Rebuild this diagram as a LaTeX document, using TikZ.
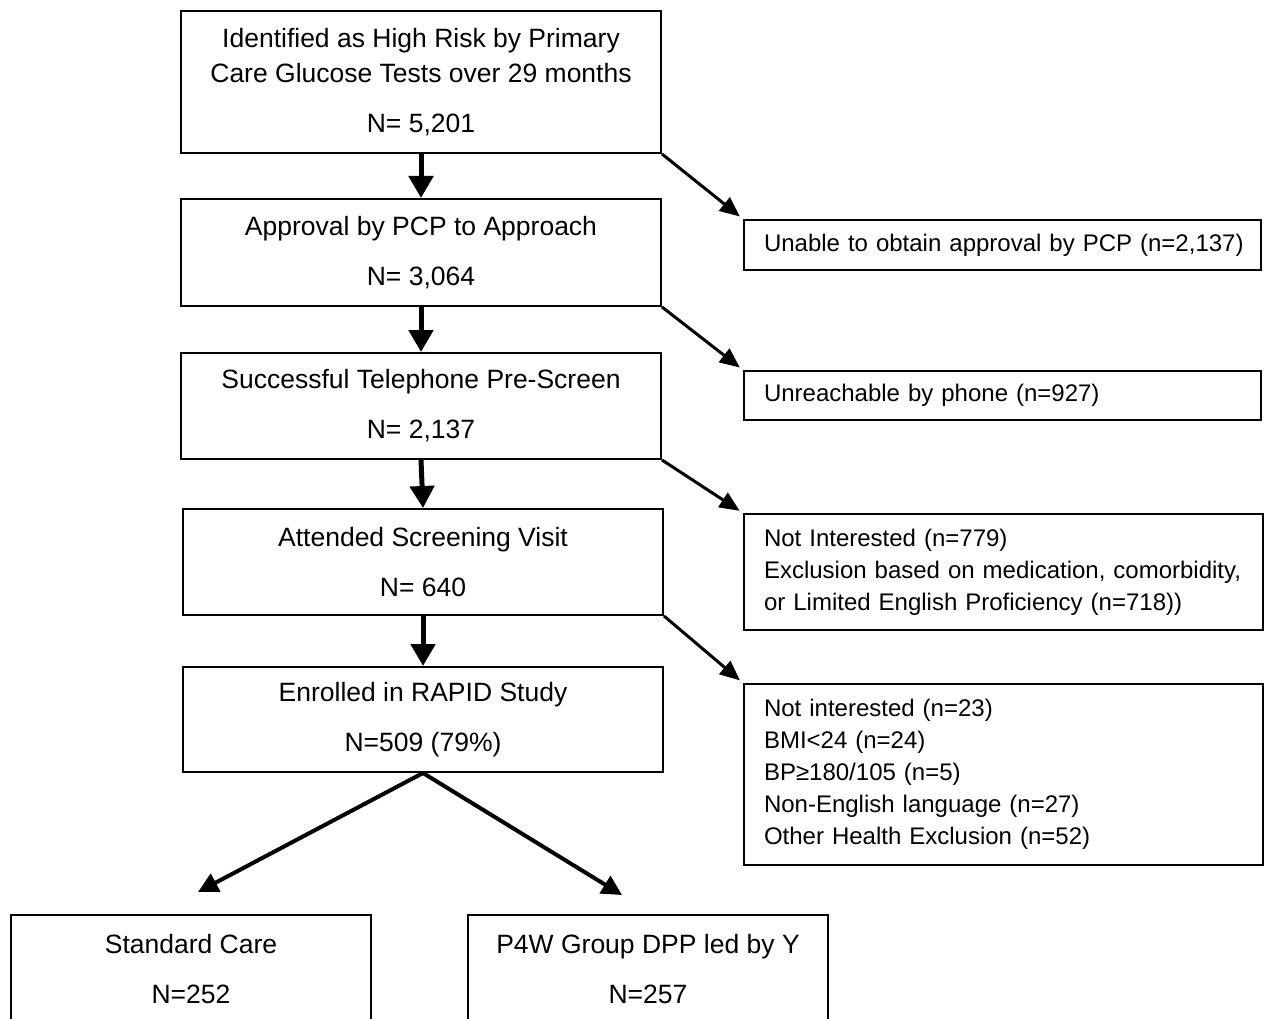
\documentclass[tikz,border=0pt]{standalone}
\usepackage{fontspec}
\setmainfont{Liberation Sans}
\usetikzlibrary{arrows.meta}
\begin{document}
\begin{tikzpicture}[x=1pt,y=-1pt,
 mainbox/.style={draw, line width=2pt, inner sep=0pt, anchor=north west, align=center, font=\fontsize{26.5}{35}\selectfont},
 sidebox/.style={draw, line width=2pt, inner xsep=20pt, inner ysep=0pt, anchor=north west, align=left, font=\fontsize{24}{32}\selectfont},
 varrow/.style={line width=5pt, -{Triangle[length=22pt,width=24pt]}},
 darrow/.style={line width=3pt, -{Triangle[length=20pt,width=17pt]}, shorten >=4pt},
 barrow/.style={line width=4pt, -{Triangle[length=20pt,width=20pt]}}]
\useasboundingbox (0,0) rectangle (1268,1019);
\node[mainbox, minimum width=480pt, minimum height=142pt] (b1) at (180,10)
  {Identified as High Risk by Primary\\Care Glucose Tests over 29 months\\[15pt]N= 5,201};
\node[mainbox, minimum width=480pt, minimum height=107pt] (b2) at (180,198)
  {Approval by PCP to Approach\\[15pt]N= 3,064};
\node[mainbox, minimum width=480pt, minimum height=106pt] (b3) at (180,352)
  {Successful Telephone Pre-Screen\\[15pt]N= 2,137};
\node[mainbox, minimum width=480pt, minimum height=106pt] (b4) at (182,508)
  {Attended Screening Visit\\[15pt]N= 640};
\node[mainbox, minimum width=480pt, minimum height=105pt] (b5) at (182,666)
  {Enrolled in RAPID Study\\[15pt]N=509 (79\%)};
\node[sidebox, text width=477pt, minimum height=50pt] (r1) at (743,219)
  {\mbox{Unable to obtain approval by PCP (n=2,137)}};
\node[sidebox, text width=477pt, minimum height=49pt] (r2) at (743,370)
  {\mbox{Unreachable by phone (n=927)}};
\node[sidebox, text width=479pt, minimum height=116pt] (r3) at (743,513)
  {Not Interested (n=779)\\\mbox{Exclusion based on medication, comorbidity,}\\or Limited English Proficiency (n=718))};
\node[sidebox, text width=479pt, minimum height=181pt] (r4) at (743,683)
  {Not interested (n=23)\\BMI<24 (n=24)\\BP≥180/105 (n=5)\\Non-English language (n=27)\\Other Health Exclusion (n=52)};
\node[mainbox, minimum width=360pt, minimum height=108pt] (c1) at (10,914)
  {Standard Care\\[15pt]N=252};
\node[mainbox, minimum width=360pt, minimum height=108pt] (c2) at (467,914)
  {P4W Group DPP led by Y\\[15pt]N=257};
\draw[varrow] (b1.south) -- (b2.north);
\draw[varrow] (b2.south) -- (b3.north);
\draw[varrow] (b3.south) -- (b4.north);
\draw[varrow] (b4.south) -- (b5.north);
\draw[darrow] (b1.south east) -- (r1.north west);
\draw[darrow] (b2.south east) -- (r2.north west);
\draw[darrow] (b3.south east) -- (r3.north west);
\draw[darrow] (b4.south east) -- (r4.north west);
\coordinate (tL) at (198,892);
\coordinate (tR) at (622,895);
\draw[barrow] (b5.south) -- (tL);
\draw[barrow] (b5.south) -- (tR);
\end{tikzpicture}
\end{document}
